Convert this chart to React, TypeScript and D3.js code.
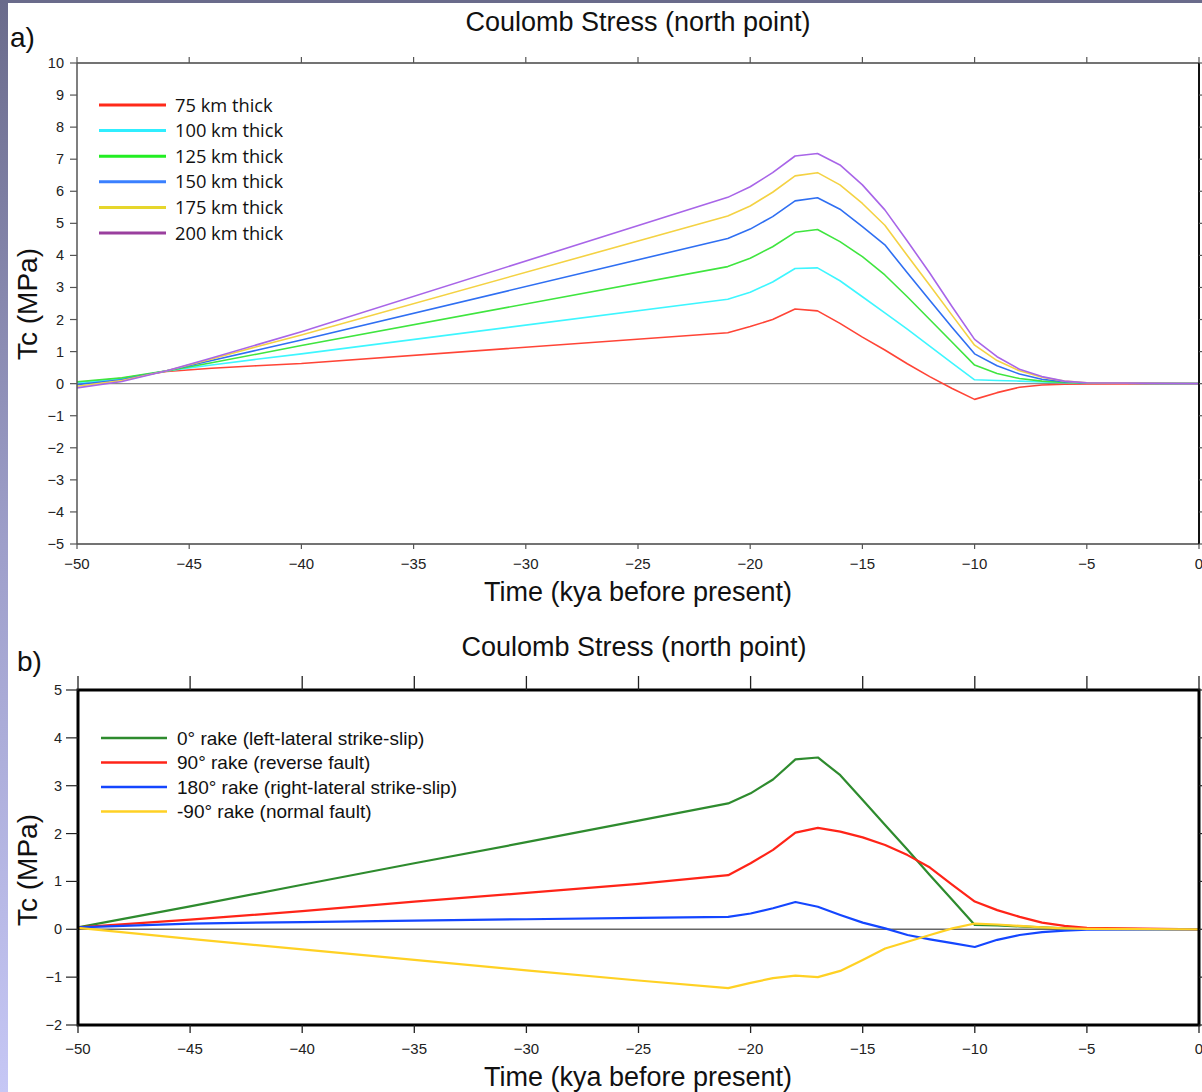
import React from "react";
import * as d3 from "d3";

// ---------- Data ----------
const timeA = [-50, -48, -46, -44, -42, -40, -21, -20, -19, -18, -17, -16, -15, -14, -13, -12, -11, -10, -9, -8, -7, -6, -5, 0];
const thick75 = [0.03, 0.17, 0.38, 0.48, 0.56, 0.63, 1.59, 1.78, 2.0, 2.33, 2.27, 1.88, 1.45, 1.05, 0.62, 0.22, -0.15, -0.49, -0.28, -0.11, -0.04, -0.02, -0.01, 0];
const thick100 = [0.02, 0.15, 0.4, 0.58, 0.76, 0.93, 2.63, 2.85, 3.17, 3.59, 3.61, 3.21, 2.71, 2.21, 1.7, 1.17, 0.64, 0.12, 0.1, 0.08, 0.05, 0.03, 0.02, 0];
const thick125 = [0.06, 0.18, 0.4, 0.65, 0.92, 1.19, 3.65, 3.91, 4.27, 4.72, 4.81, 4.43, 3.96, 3.39, 2.71, 2.0, 1.29, 0.58, 0.32, 0.16, 0.08, 0.04, 0.02, 0];
const thick150 = [-0.03, 0.12, 0.4, 0.72, 1.04, 1.36, 4.53, 4.82, 5.21, 5.7, 5.8, 5.44, 4.9, 4.33, 3.46, 2.6, 1.75, 0.93, 0.56, 0.3, 0.14, 0.06, 0.02, 0];
const thick175 = [-0.08, 0.1, 0.4, 0.77, 1.15, 1.52, 5.23, 5.54, 5.97, 6.48, 6.58, 6.2, 5.62, 4.94, 4.0, 3.07, 2.13, 1.2, 0.72, 0.4, 0.2, 0.08, 0.03, 0];
const thick200 = [-0.13, 0.07, 0.4, 0.8, 1.21, 1.62, 5.81, 6.14, 6.58, 7.1, 7.18, 6.82, 6.2, 5.42, 4.45, 3.45, 2.4, 1.38, 0.84, 0.45, 0.22, 0.08, 0.03, 0];
const labelsA = ["75 km thick", "100 km thick", "125 km thick", "150 km thick", "175 km thick", "200 km thick"];

const timeB = [-50, -45, -40, -35, -30, -25, -21, -20, -19, -18, -17, -16, -15, -14, -13, -12, -11, -10, -9, -8, -7, -6, -5, 0];
const rake0 = [0.04, 0.48, 0.93, 1.38, 1.82, 2.27, 2.63, 2.84, 3.13, 3.55, 3.59, 3.22, 2.7, 2.18, 1.66, 1.13, 0.61, 0.09, 0.08, 0.06, 0.04, 0.02, 0.01, 0];
const rake90 = [0.04, 0.2, 0.38, 0.58, 0.76, 0.95, 1.13, 1.38, 1.66, 2.02, 2.12, 2.04, 1.92, 1.76, 1.55, 1.29, 0.93, 0.58, 0.4, 0.26, 0.14, 0.07, 0.03, 0];
const rake180 = [0.04, 0.12, 0.15, 0.18, 0.21, 0.24, 0.26, 0.33, 0.44, 0.57, 0.47, 0.3, 0.14, 0.02, -0.12, -0.21, -0.29, -0.37, -0.22, -0.12, -0.06, -0.03, -0.01, 0];
const rakeN90 = [0.03, -0.2, -0.42, -0.64, -0.86, -1.07, -1.23, -1.12, -1.02, -0.97, -1.0, -0.87, -0.64, -0.4, -0.26, -0.12, 0.02, 0.12, 0.1, 0.07, 0.04, 0.02, 0.01, 0];
const labelsB = ["0\u00b0 rake (left-lateral strike-slip)", "90\u00b0 rake (reverse fault)", "180\u00b0 rake (right-lateral strike-slip)", "-90\u00b0 rake (normal fault)"];

const xTicks = [-50, -45, -40, -35, -30, -25, -20, -15, -10, -5, 0];
const yTicksA = [-5, -4, -3, -2, -1, 0, 1, 2, 3, 4, 5, 6, 7, 8, 9, 10];
const yTicksB = [-2, -1, 0, 1, 2, 3, 4, 5];

const title = "Coulomb Stress (north point)";
const xTitle = "Time (kya before present)";
const yTitle = "Tc (MPa)";

// ---------- Styles ----------
const colorsA = ["#ff4436", "#3ef6ff", "#3fe53f", "#2f6ff2", "#f4d243", "#a865e8"];
const legendColorsA = ["#ff2a1a", "#30eeff", "#22ee22", "#3a80ff", "#e6d62c", "#9a3f9e"];
const colorsB = ["#2e8b2e", "#ff2418", "#1446ff", "#ffd124"];

const FONT = "'Liberation Sans', Arial, Helvetica, sans-serif";
const fmt = (v: number) => (v < 0 ? "\u2212" + Math.abs(v) : String(v));

export default function App() {
  const W = 1202, H = 1092;
  const xA = d3.scaleLinear().domain([-50, 0]).range([77, 1199]);
  const yA = d3.scaleLinear().domain([-5, 10]).range([544, 63]);
  const xB = d3.scaleLinear().domain([-50, 0]).range([78, 1199]);
  const yB = d3.scaleLinear().domain([-2, 5]).range([1025, 690]);

  const seriesA = [thick75, thick100, thick125, thick150, thick175, thick200];
  const seriesB = [rake0, rake90, rake180, rakeN90];

  const lineA = d3.line<number>().x((_, i) => xA(timeA[i])).y((d) => yA(d));
  const lineB = d3.line<number>().x((_, i) => xB(timeB[i])).y((d) => yB(d));

  return (
    <svg width={W} height={H} style={{ position: "absolute", left: 0, top: 0 }} fontFamily={FONT}>
      <defs>
        <linearGradient id="bg" x1="0" y1="0" x2="0" y2="1">
          <stop offset="0" stopColor="#6a6b8b" />
          <stop offset="0.5" stopColor="#9e9fca" />
          <stop offset="1" stopColor="#c6c7f5" />
        </linearGradient>
      </defs>
      <rect x={0} y={0} width={W} height={H} fill="url(#bg)" />
      <rect x={0} y={0} width={W} height={3} fill="#6a6b8b" />
      <rect x={8} y={3} width={W - 8} height={H - 3} fill="#ffffff" />

      {/* ===== Panel a ===== */}
      <text x={10} y={47} fontSize={28} fill="#111">a)</text>
      <text x={638} y={31} fontSize={27} textAnchor="middle" fill="#111">{title}</text>
      <text x={638} y={601} fontSize={27} textAnchor="middle" fill="#111">{xTitle}</text>
      <text transform={`translate(37,${304}) rotate(-90)`} fontSize={28} textAnchor="middle" fill="#111">{yTitle}</text>

      {/* zero line */}
      <line x1={xA(-50)} x2={xA(0)} y1={yA(0)} y2={yA(0)} stroke="#8a8a8a" strokeWidth={1.3} />

      {/* series */}
      {seriesA.map((s, i) => (
        <path key={i} d={lineA(s) || ""} fill="none" stroke={colorsA[i]} strokeWidth={1.6} strokeLinejoin="round" />
      ))}

      {/* frame */}
      <line x1={xA(-50)} x2={xA(0)} y1={yA(10)} y2={yA(10)} stroke="#444" strokeWidth={1.5} />
      <line x1={xA(-50)} x2={xA(0)} y1={yA(-5)} y2={yA(-5)} stroke="#444" strokeWidth={1.5} />
      <line x1={xA(-50)} x2={xA(-50)} y1={yA(10)} y2={yA(-5)} stroke="#555" strokeWidth={1.5} />
      <line x1={xA(0)} x2={xA(0)} y1={yA(10)} y2={yA(-5)} stroke="#111" strokeWidth={2} />

      {yTicksA.map((t) => (
        <g key={"ya" + t}>
          <line x1={70} x2={xA(-50)} y1={yA(t)} y2={yA(t)} stroke="#555" strokeWidth={1.2} />
          <line x1={xA(0)} x2={xA(0) + 6} y1={yA(t)} y2={yA(t)} stroke="#555" strokeWidth={1.2} />
          <text x={64} y={yA(t) + 5} fontSize={14.5} textAnchor="end" fill="#222">{fmt(t)}</text>
        </g>
      ))}
      {xTicks.map((t) => (
        <g key={"xa" + t}>
          <line x1={xA(t)} x2={xA(t)} y1={yA(10)} y2={yA(10) - 6} stroke="#555" strokeWidth={1.2} />
          <line x1={xA(t)} x2={xA(t)} y1={yA(-5)} y2={yA(-5) + 5} stroke="#555" strokeWidth={1.2} />
          <text x={xA(t)} y={569} fontSize={15} textAnchor="middle" fill="#222">{fmt(t)}</text>
        </g>
      ))}

      {/* legend a */}
      {labelsA.map((l, i) => {
        const y = 105 + i * 25.6;
        return (
          <g key={"la" + i}>
            <line x1={99} x2={166} y1={y} y2={y} stroke={legendColorsA[i]} strokeWidth={3} />
            <text x={175} y={y + 6.5} fontSize={18.3} fontFamily="'Open Sans', 'DejaVu Sans', sans-serif" fill="#111">{l}</text>
          </g>
        );
      })}

      {/* ===== Panel b ===== */}
      <text x={17} y={671} fontSize={28} fill="#111">b)</text>
      <text x={634} y={656} fontSize={27} textAnchor="middle" fill="#111">{title}</text>
      <text x={638} y={1086} fontSize={27} textAnchor="middle" fill="#111">{xTitle}</text>
      <text transform={`translate(37,${870}) rotate(-90)`} fontSize={28} textAnchor="middle" fill="#111">{yTitle}</text>

      <line x1={xB(-50)} x2={xB(0)} y1={yB(0)} y2={yB(0)} stroke="#666" strokeWidth={1.5} />

      {seriesB.map((s, i) => (
        <path key={i} d={lineB(s) || ""} fill="none" stroke={colorsB[i]} strokeWidth={2.2} strokeLinejoin="round" />
      ))}

      <rect x={xB(-50)} y={yB(5)} width={xB(0) - xB(-50)} height={yB(-2) - yB(5)} fill="none" stroke="#000" strokeWidth={3} />

      {yTicksB.map((t) => (
        <g key={"yb" + t}>
          <line x1={66} x2={xB(-50)} y1={yB(t)} y2={yB(t)} stroke="#222" strokeWidth={1.2} />
          <line x1={xB(0)} x2={xB(0) + 6} y1={yB(t)} y2={yB(t)} stroke="#222" strokeWidth={1.2} />
          <text x={62} y={yB(t) + 5} fontSize={14.5} textAnchor="end" fill="#222">{fmt(t)}</text>
        </g>
      ))}
      {xTicks.map((t) => (
        <g key={"xb" + t}>
          <line x1={xB(t)} x2={xB(t)} y1={yB(5)} y2={yB(5) - 14} stroke="#222" strokeWidth={1.3} />
          <line x1={xB(t)} x2={xB(t)} y1={yB(-2)} y2={yB(-2) + 8} stroke="#222" strokeWidth={1.3} />
          <text x={xB(t)} y={1054} fontSize={15} textAnchor="middle" fill="#222">{fmt(t)}</text>
        </g>
      ))}

      {/* legend b */}
      {labelsB.map((l, i) => {
        const y = 738 + i * 24.5;
        return (
          <g key={"lb" + i}>
            <line x1={101} x2={167} y1={y} y2={y} stroke={colorsB[i]} strokeWidth={2.5} />
            <text x={177} y={y + 6.5} fontSize={19} fill="#111">{l}</text>
          </g>
        );
      })}
    </svg>
  );
}
